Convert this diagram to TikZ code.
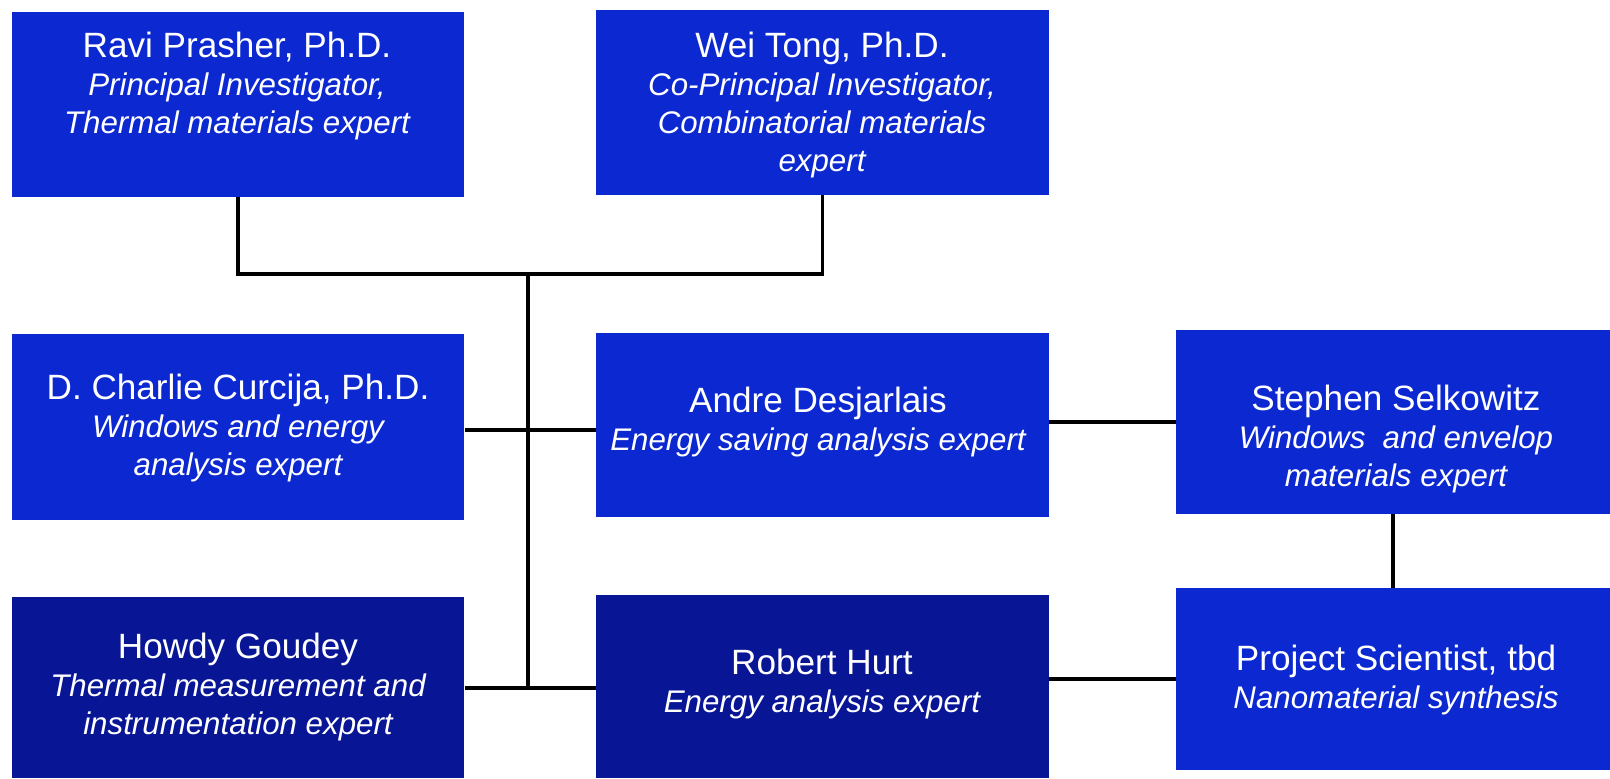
\documentclass[tikz,border=0pt]{standalone}
\usepackage{fontspec}
\setmainfont{Liberation Sans}
\definecolor{boxblue}{RGB}{12,40,208}
\definecolor{boxnavy}{RGB}{8,22,150}
\newcommand{\who}[1]{{\upshape\fontsize{20}{21.5}\selectfont #1}}
\begin{document}
\begin{tikzpicture}[x=0.02cm, y=-0.02cm,
    box/.style={fill=boxblue, minimum width=9.05cm, minimum height=3.7cm, inner sep=0pt},
    navy/.style={box, fill=boxnavy},
    txt/.style={text=white, align=center, font=\fontsize{17.8}{21.5}\selectfont\itshape},
    link/.style={line width=2pt}]
      \useasboundingbox (0,0) rectangle (1610,778);
      %
      \node[box] (ravi) at (238,104.5) {};                           % first row
      \node[box] (wei) at (822.5,102.5) {};
      %
      \node[box, minimum height=3.72cm] (charlie) at (238,427) {};  % second row
      \node[box, minimum height=3.68cm] (andre) at (822.5,425) {};
      \node[box, minimum width=8.68cm, minimum height=3.68cm] (stephen) at (1393,422) {};
      %
      \node[navy, minimum height=3.62cm] (howdy) at (238,687.5) {}; % third row
      \node[navy, minimum height=3.66cm] (robert) at (822.5,686.5) {};
      \node[box, minimum width=8.68cm, minimum height=3.64cm] (project) at (1393,679) {};
      %%
      \node[txt] (ravi-t) at (237,86) {\who{Ravi Prasher, Ph.D.}\\ Principal Investigator,\\ Thermal materials expert};
      \node[txt] (wei-t) at (822,105) {\who{Wei Tong, Ph.D.}\\ Co-Principal Investigator,\\ Combinatorial materials\\ expert};
      \node[txt] (charlie-t) at (238,428) {\who{D. Charlie Curcija, Ph.D.}\\ Windows and energy\\ analysis expert};
      \node[txt] (andre-t) at (818,422) {\who{Andre Desjarlais}\\ Energy saving analysis expert};
      \node[txt] (stephen-t) at (1396,439) {\who{Stephen Selkowitz}\\ Windows \ and envelop\\ materials expert};
      \node[txt] (howdy-t) at (238,687) {\who{Howdy Goudey}\\ Thermal measurement and\\ instrumentation expert};
      \node[txt] (robert-t) at (822,684) {\who{Robert Hurt}\\ Energy analysis expert};
      \node[txt] (project-t) at (1396,680) {\who{Project Scientist, tbd}\\ Nanomaterial synthesis};
      %%
      \coordinate (top) at (528,274);                                % trunk
      \coordinate (mid) at (528,430);
      \coordinate (low) at (528,688);
      \draw[link] (ravi.south) |- (top) -| (wei.south);
      \draw[link] (top) -- (low);
      \draw[link] (charlie.east |- mid) -- (andre.west |- mid);
      \draw[link] (howdy.east |- low) -- (robert.west |- low);
      %
      \draw[link] (andre.east |- stephen.west) -- (stephen.west);    % right column
      \draw[link] (stephen.south) -- (project.north);
      \draw[link] (robert.east |- project.west) -- (project.west);
      %
\end{tikzpicture}
\end{document}
